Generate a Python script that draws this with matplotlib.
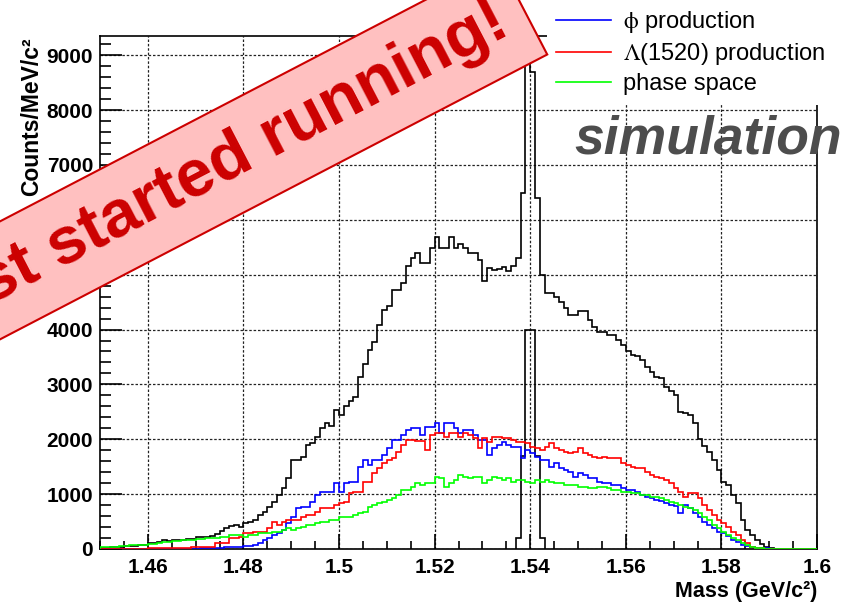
import numpy as np
import matplotlib
matplotlib.use("Agg")
import matplotlib.pyplot as plt
from matplotlib.ticker import MultipleLocator

plt.rcParams['font.family'] = ['Liberation Sans', 'DejaVu Sans']
plt.rcParams['mathtext.fontset'] = 'stix'

# 1 MeV bins from 1.45 to 1.60 GeV/c^2
mass_lo, mass_hi, n_bins = 1.45, 1.60, 150

# total spectrum (black)
total = [
    20, 25, 30, 30, 35, 55, 60, 60, 65, 70,
    110, 110, 120, 160, 150, 170, 165, 170, 175, 180,
    220, 225, 225, 230, 270, 330, 380, 420, 440, 400,
    480, 500, 530, 620, 680, 772, 863, 985, 1106, 1289,
    1622, 1622, 1683, 1896, 1930, 2050, 2200, 2300, 2250, 2530,
    2440, 2600, 2700, 2770, 3140, 3380, 3620, 3780, 4080, 4350,
    4420, 4720, 4720, 4840, 5150, 5300, 5400, 5210, 5210, 5480,
    5690, 5480, 5480, 5690, 5480, 5560, 5480, 5400, 5390, 5270,
    4880, 5120, 5090, 5110, 5140, 5060, 5150, 5300, 6490, 8925,
    8700, 6400, 5000, 4660, 4660, 4600, 4510, 4390, 4270, 4270,
    4330, 4330, 4175, 4050, 3960, 3960, 3900, 3900, 3810, 3720,
    3600, 3540, 3510, 3450, 3320, 3230, 3140, 3110, 2960, 2880,
    2810, 2500, 2470, 2440, 2300, 2000, 1870, 1770, 1620, 1440,
    1230, 1170, 985, 830, 530, 345, 255, 165, 100, 40,
    18, 5, 0, 0, 0, 0, 0, 0, 0, 0,
]

# phi production (blue)
phi_prod = [
    0, 0, 0, 0, 0, 0, 0, 0, 0, 0,
    0, 0, 0, 0, 0, 2, 3, 4, 5, 6,
    8, 10, 12, 15, 18, 22, 30, 35, 40, 45,
    50, 61, 80, 110, 164, 200, 255, 300, 346, 468,
    590, 742, 772, 772, 863, 985, 1045, 1045, 1045, 1197,
    1030, 1197, 1227, 1227, 1490, 1622, 1531, 1622, 1620, 1714,
    1835, 1987, 1987, 2080, 2170, 2200, 2200, 2078, 2230, 2230,
    2291, 2110, 2291, 2291, 2200, 2110, 2170, 2170, 2078, 1987,
    1987, 1714, 1835, 1896, 1957, 1896, 1866, 1866, 1653, 1805,
    1744, 1683, 1622, 1622, 1501, 1562, 1471, 1440, 1410, 1319,
    1380, 1349, 1289, 1289, 1228, 1197, 1197, 1167, 1167, 1106,
    1076, 1076, 1045, 985, 954, 924, 893, 870, 833, 802,
    790, 650, 802, 742, 650, 589, 498, 437, 377, 316,
    286, 230, 164, 120, 73, 50, 36, 25, 18, 10,
    5, 0, 0, 0, 0, 0, 0, 0, 0, 0,
]

# Lambda(1520) production (red)
lam_prod = [
    5, 5, 4, 4, 5, 6, 6, 7, 8, 8,
    10, 10, 12, 14, 15, 17, 20, 22, 25, 30,
    42, 42, 42, 42, 103, 103, 103, 195, 195, 225,
    286, 286, 316, 316, 316, 377, 498, 437, 498, 529,
    529, 529, 589, 620, 620, 680, 742, 742, 742, 802,
    833, 863, 1015, 1045, 1045, 1227, 1227, 1380, 1471, 1562,
    1622, 1653, 1774, 1896, 1987, 1987, 1960, 1960, 1805, 2078,
    2109, 2109, 2048, 2109, 2109, 2048, 2109, 2078, 2018, 1835,
    2018, 1957, 2048, 2048, 2018, 2018, 1987, 1957, 1957, 1927,
    1866, 1835, 1805, 1866, 1927, 1835, 1805, 1774, 1744, 1774,
    1835, 1744, 1714, 1683, 1653, 1683, 1653, 1653, 1653, 1562,
    1531, 1501, 1471, 1471, 1410, 1349, 1319, 1289, 1258, 1197,
    1106, 1045, 954, 1015, 1015, 924, 802, 711, 620, 529,
    468, 407, 316, 255, 164, 103, 42, 18, 12, 5,
    2, 2, 1, 1, 0, 0, 0, 0, 0, 0,
]

# phase space (green)
phase_space = [
    30, 35, 40, 45, 50, 60, 65, 70, 75, 80,
    95, 100, 110, 120, 130, 140, 150, 155, 160, 170,
    176, 176, 195, 195, 195, 225, 225, 255, 255, 255,
    225, 255, 255, 286, 286, 286, 316, 316, 346, 377,
    346, 377, 407, 437, 437, 468, 498, 498, 529, 529,
    577, 589, 589, 620, 650, 680, 772, 802, 833, 863,
    893, 924, 985, 1076, 1076, 1136, 1197, 1167, 1197, 1197,
    1319, 1290, 1136, 1197, 1260, 1349, 1319, 1290, 1319, 1319,
    1197, 1258, 1319, 1289, 1258, 1289, 1228, 1258, 1258, 1228,
    1197, 1258, 1228, 1258, 1228, 1197, 1197, 1167, 1167, 1167,
    1136, 1136, 1106, 1106, 1136, 1136, 1106, 1076, 1076, 1045,
    1045, 1015, 1015, 985, 985, 954, 954, 924, 893, 863,
    833, 802, 772, 742, 711, 650, 589, 529, 437, 377,
    316, 255, 195, 164, 103, 73, 42, 18, 10, 5,
    0, 0, 0, 0, 0, 0, 0, 0, 0, 0,
]

# narrow resonance near 1.54
peak_lo = 1.537
peak_counts = [200, 1700, 4000, 4000, 1700, 200]

xticks = [1.46, 1.48, 1.50, 1.52, 1.54, 1.56, 1.58, 1.60]
xtick_labels = ['1.46', '1.48', '1.5', '1.52', '1.54', '1.56', '1.58', '1.6']
yticks = [0, 1000, 2000, 3000, 4000, 5000, 6000, 7000, 8000, 9000]

legend_labels = [r'$\mathrm{\phi}$ production', r'$\Lambda$(1520) production', 'phase space']

edges = np.linspace(mass_lo, mass_hi, n_bins + 1)
peak_edges = peak_lo + 0.001 * np.arange(len(peak_counts) + 1)

fig = plt.figure(figsize=(8.47, 6.05), dpi=100)
ax = fig.add_axes([100 / 847, 56 / 605, 717 / 847, 513 / 605])

lw = 1.2
ax.stairs(total, edges, color='black', lw=lw, zorder=3)
ax.stairs(peak_counts, peak_edges, color='black', lw=lw, zorder=3)
h_phi = ax.stairs(phi_prod, edges, color='#0000ff', lw=lw, zorder=3)
h_lam = ax.stairs(lam_prod, edges, color='#ff0000', lw=lw, zorder=3)
h_ps = ax.stairs(phase_space, edges, color='#00ff00', lw=lw, zorder=3)

ax.set_xlim(mass_lo, mass_hi)
ax.set_ylim(0, 9350)

ax.set_xticks(xticks)
ax.set_xticklabels(xtick_labels, fontweight='bold', fontsize=15)
ax.set_yticks(yticks)
ax.set_yticklabels([str(v) for v in yticks], fontweight='bold', fontsize=15)
ax.xaxis.set_minor_locator(MultipleLocator(0.005))
ax.yaxis.set_minor_locator(MultipleLocator(200))

ax.tick_params(axis='y', which='major', direction='in', length=15.5, width=1.2, pad=5)
ax.tick_params(axis='y', which='minor', direction='in', length=7.8, width=1.2)
ax.tick_params(axis='x', which='major', direction='in', length=11, width=1.2, pad=6.5)
ax.tick_params(axis='x', which='minor', direction='in', length=5.5, width=1.2)

ax.grid(True, which='major', color='#222222', linestyle=(0, (2, 1.5)), linewidth=0.9)
ax.set_axisbelow(True)
for sp in ax.spines.values():
    sp.set_linewidth(1.2)

# axis titles, ROOT style (aligned to the far ends of the axes)
fig.text(817 / 847, 1 - 592 / 605, 'Mass (GeV/c²)', ha='right', va='center',
         fontsize=15.5, fontweight='bold')
fig.text(32 / 847, 1 - 37 / 605, 'Counts/MeV/c²', ha='center', va='top',
         rotation=90, fontsize=16.5, fontweight='bold')

fig.text(574 / 847, 1 - 153 / 605, 'simulation', ha='left', va='baseline',
         fontsize=38.5, fontweight='bold', fontstyle='italic', color='#4d4d4d')

leg = fig.legend([h_phi, h_lam, h_ps], legend_labels, loc='upper left',
                 bbox_to_anchor=(547 / 847, 1.0), fontsize=17, frameon=True,
                 fancybox=False, borderpad=0.4, borderaxespad=0,
                 handlelength=2.3, handletextpad=0.5, labelspacing=0.25)
leg.get_frame().set_facecolor('white')
leg.get_frame().set_edgecolor('none')
leg.get_frame().set_alpha(1)

fig.text(512 / 847, 1 - 33 / 605, 'Just started running!', rotation=27.5,
         rotation_mode='anchor', ha='right', va='baseline', fontsize=48,
         fontweight='bold', color='#cc0000', zorder=10,
         bbox=dict(boxstyle='square,pad=0.32', fc='#ffc0c0', ec='#cc0000', lw=1.5))

fig.savefig('out.png', dpi=100)
